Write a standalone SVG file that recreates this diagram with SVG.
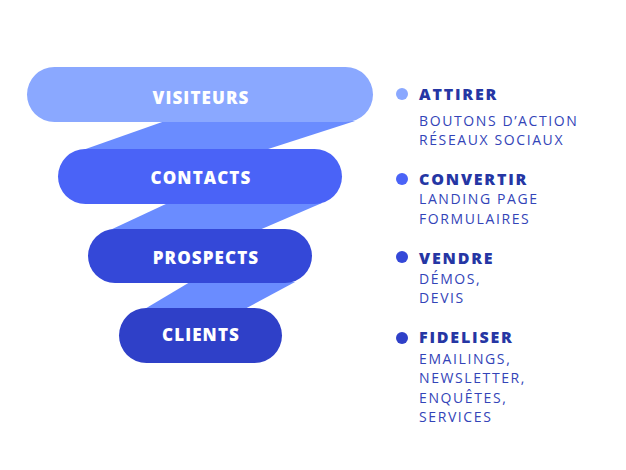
<svg xmlns="http://www.w3.org/2000/svg" width="626" height="470" viewBox="0 0 626 470">
<style>
.lbl{font-family:"Open Sans","Liberation Sans",sans-serif;font-weight:800;font-size:17px;fill:#ffffff;text-anchor:middle;letter-spacing:1.1px}
.hd{font-family:"Open Sans","Liberation Sans",sans-serif;font-weight:800;font-size:16px;fill:#2536a4;letter-spacing:1.8px}
.sub{font-family:"Open Sans","Liberation Sans",sans-serif;font-weight:400;font-size:14px;fill:#3344b8;letter-spacing:1.6px}
</style>
<rect width="626" height="470" fill="#ffffff"/>
<g id="connectors">
<polygon points="165,121 355,121 262,151 80,151" fill="#6a8cff"/>
<polygon points="168,203 322,203 257,231 108,231" fill="#6a8cff"/>
<polygon points="190,282 295,282 243,310 143,310" fill="#6a8cff"/>
</g>
<g id="node-visiteurs">
<rect x="27" y="67" width="346" height="55" rx="27.5" fill="#8aa8ff"/>
<text class="lbl" x="201" y="104">VISITEURS</text>
</g>
<g id="node-contacts">
<rect x="58" y="149" width="284" height="55" rx="27.5" fill="#4a63f7"/>
<text class="lbl" x="201" y="184">CONTACTS</text>
</g>
<g id="node-prospects">
<rect x="88" y="229" width="224" height="54" rx="27" fill="#3448d8"/>
<text class="lbl" x="206" y="264">PROSPECTS</text>
</g>
<g id="node-clients">
<rect x="119" y="308" width="163" height="55" rx="27.5" fill="#2f40c8"/>
<text class="lbl" x="201" y="341">CLIENTS</text>
</g>
<g id="legend-attirer">
<circle cx="402" cy="94" r="6" fill="#8aa8ff"/>
<text class="hd" x="419" y="100">ATTIRER</text>
<text class="sub" x="419" y="126">BOUTONS D’ACTION</text>
<text class="sub" x="419" y="145">RÉSEAUX SOCIAUX</text>
</g>
<g id="legend-convertir">
<circle cx="402" cy="179" r="6" fill="#4a63f7"/>
<text class="hd" x="419" y="185">CONVERTIR</text>
<text class="sub" x="419" y="204">LANDING PAGE</text>
<text class="sub" x="419" y="224">FORMULAIRES</text>
</g>
<g id="legend-vendre">
<circle cx="402" cy="257" r="6" fill="#3448d8"/>
<text class="hd" x="419" y="264">VENDRE</text>
<text class="sub" x="419" y="284">DÉMOS,</text>
<text class="sub" x="419" y="303">DEVIS</text>
</g>
<g id="legend-fideliser">
<circle cx="402" cy="338" r="6" fill="#2f40c8"/>
<text class="hd" x="419" y="343">FIDELISER</text>
<text class="sub" x="419" y="364">EMAILINGS,</text>
<text class="sub" x="419" y="383">NEWSLETTER,</text>
<text class="sub" x="419" y="403">ENQUÊTES,</text>
<text class="sub" x="419" y="422">SERVICES</text>
</g>
</svg>
